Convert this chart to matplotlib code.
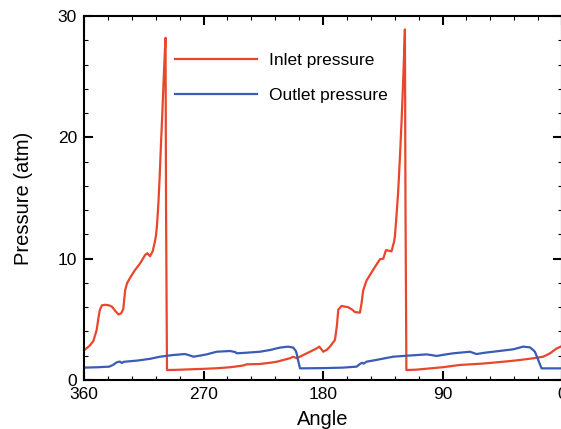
import matplotlib
matplotlib.use("Agg")
import matplotlib.pyplot as plt
from matplotlib.ticker import MultipleLocator

plt.rcParams['font.family'] = ['Liberation Sans', 'DejaVu Sans']

inlet_angle = [360, 356, 353, 350.5, 349, 348, 346.5, 344, 341, 339, 336.5, 334, 332, 330.4,
               329, 327.5, 325.4, 322, 317.8, 314, 312.3, 310.3, 308.3, 306.8, 305.8, 305, 304,
               303, 302, 301, 300, 299, 298.6, 298.2, 297.5, 290, 280, 270, 260, 250, 245, 240,
               237.5, 227.5, 220, 215, 205, 202.4, 199.8, 194.8, 189.8, 184.8, 182.8, 179.8, 177,
               174.8, 171, 169.5, 168.5, 166, 161, 158, 156, 152.2, 151, 149.7, 147.2, 141, 137.1,
               134.6, 132.6, 130, 128.4, 126.5, 125.9, 125, 123.4, 122, 120.8, 119.5, 118.3, 117.9,
               117.2, 110, 100, 90, 76.9, 60, 51.8, 40, 31.7, 21.6, 14.1, 9.0, 4.0, 0]
inlet_p = [2.45, 2.8, 3.2, 4.1, 5.2, 5.8, 6.15, 6.2, 6.15, 6.05, 5.7, 5.4, 5.5, 5.85,
           7.4, 8.0, 8.4, 9.0, 9.6, 10.3, 10.45, 10.2, 10.6, 11.3, 11.9, 12.8, 14.5,
           16.8, 19.5, 22.0, 24.8, 27.3, 28.2, 14.0, 0.82, 0.84, 0.88, 0.92, 0.97, 1.05, 1.12, 1.2,
           1.29, 1.32, 1.42, 1.5, 1.79, 1.92, 1.79, 2.06, 2.33, 2.6, 2.75, 2.33, 2.5,
           2.75, 3.3, 4.5, 5.8, 6.1, 6.0, 5.8, 5.6, 5.55, 6.3, 7.4, 8.2, 9.3, 9.95,
           10.0, 10.7, 10.65, 10.6, 11.4, 11.8, 13.0, 15.5, 18.5, 21.4, 25.0, 28.9, 15.0,
           0.82, 0.85, 0.95, 1.05, 1.24, 1.35, 1.43, 1.55, 1.65, 1.79, 1.92, 2.2, 2.6, 2.8]

outlet_angle = [360, 350, 341, 338, 335.5, 333, 331.5, 330, 320, 310, 302.8, 292.8, 284, 281,
                277.7, 272, 267.7, 260.1, 250, 246, 245, 237.5, 227.5, 220, 212.4, 206.2, 202.4,
                200.5, 199.9, 198.5, 197.3, 180, 165, 154.7, 152.2, 150.5, 149.5, 147.2, 140,
                127.2, 117.1, 102, 98, 94.5, 88, 82, 69.3, 66, 64.4, 58, 51.8, 36.7, 29.2, 24.2,
                22, 20.4, 17.9, 15.4, 0]
outlet_p = [1.02, 1.05, 1.1, 1.25, 1.45, 1.52, 1.4, 1.5, 1.6, 1.75, 1.92, 2.06, 2.14, 2.05,
            1.92, 2.02, 2.11, 2.33, 2.39, 2.3, 2.2, 2.25, 2.33, 2.47, 2.67, 2.75, 2.67,
            2.4, 2.2, 1.5, 0.96, 0.98, 1.02, 1.1, 1.32, 1.42, 1.35, 1.51, 1.65,
            1.92, 2.0, 2.11, 2.05, 1.98, 2.1, 2.2, 2.33, 2.2, 2.14, 2.25, 2.33, 2.53, 2.75, 2.69,
            2.5, 2.33, 1.65, 0.96, 0.96]

series_labels = ["Inlet pressure", "Outlet pressure"]
x_ticks = [360, 270, 180, 90, 0]
y_ticks = [0, 10, 20, 30]

fig = plt.figure(figsize=(5.61, 4.29), dpi=100)
ax = fig.add_axes([84/561, 1 - 380/429, 478/561, 364/429])

ax.plot(inlet_angle, inlet_p, color='#E8472C', lw=1.6, label=series_labels[0])
ax.plot(outlet_angle, outlet_p, color='#3B5CB5', lw=1.6, label=series_labels[1])

ax.set_xlim(360, 0)
ax.set_ylim(0, 30)
ax.set_xticks(x_ticks)
ax.set_yticks(y_ticks)
ax.xaxis.set_minor_locator(MultipleLocator(18))
ax.yaxis.set_minor_locator(MultipleLocator(2))
ax.tick_params(which='both', direction='in', top=True, right=True, labelsize=12.5, colors='black')
ax.tick_params(which='major', length=6.5, width=1.5, pad=5)
ax.tick_params(which='minor', length=3.2, width=0.8)
for s in ax.spines.values():
    s.set_linewidth(1.5)

ax.set_xlabel("Angle", fontsize=14.5, labelpad=6)
ax.set_ylabel("Pressure (atm)", fontsize=14.5, labelpad=18)

ax.legend(loc='upper left', bbox_to_anchor=(91/478, 1 - 37/364), frameon=False,
          fontsize=12.5, handlelength=4.7, handletextpad=0.7, labelspacing=1.15,
          borderpad=0, borderaxespad=0)

fig.savefig("out.png", dpi=100)
